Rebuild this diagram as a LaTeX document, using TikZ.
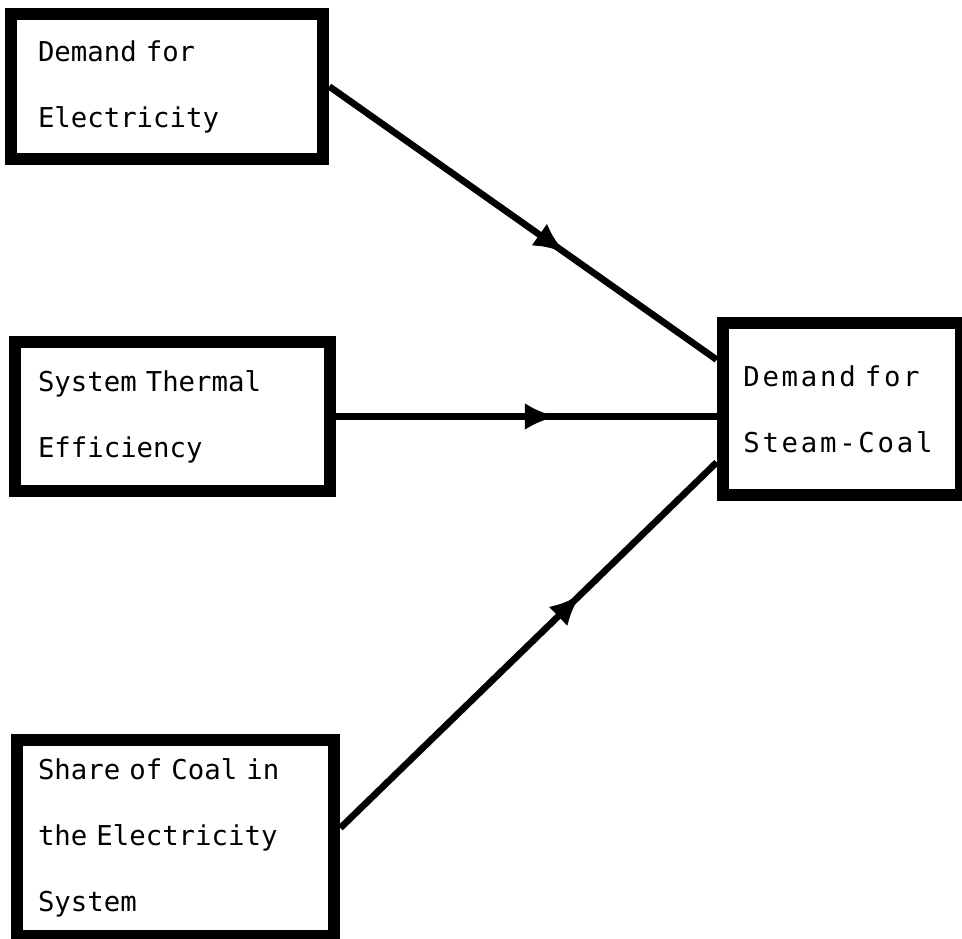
\documentclass[tikz,border=0pt]{standalone}
\usepackage{fontspec}
\newfontfamily\boxfont{DejaVu Sans Mono}
\newfontfamily\widefont[LetterSpace=10]{DejaVu Sans Mono}
\usetikzlibrary{arrows.meta,decorations.markings}

\begin{document}
\begin{tikzpicture}[x=0.75pt, y=-0.75pt,
    block/.style ={rectangle, draw=black, line width=9.5pt, fill=white,
      align=left, inner sep=0pt,
      font=\boxfont\fontsize{20.5pt}{49.5pt}\selectfont},
    block_wide/.style ={block,
      font=\widefont\fontsize{20.5pt}{49.5pt}\selectfont},
    flowline/.style ={draw, line width=5pt,
      decoration={markings,
        mark=at position #1 with {\arrow{Latex[length=24pt,width=20pt]}}},
      postaction={decorate}},
    flowline/.default=0.6]
    \useasboundingbox (0,0) rectangle (962,938);
    % the three inputs on the left
    \node [block, minimum width=234pt, minimum height=108.75pt, text width=193.5pt]
      (elec) at (167,86.5) {Demand for\\Electricity};
    \node [block, minimum width=236.25pt, minimum height=111.75pt, text width=201.75pt]
      (thermal) at (172.5,416.5) {System Thermal\\Efficiency};
    \node [block, minimum width=237.75pt, minimum height=147pt, text width=206.25pt]
      (share) at (175.5,838) {Share of Coal in\\the Electricity\\System};
    % the result on the right
    \node [block_wide, minimum width=178.5pt, minimum height=129pt, text width=148pt]
      (coal) at (842,409) {Demand for\\Steam-Coal};
    % connecting nodes with paths
    \path [flowline=0.61] (elec.east) -- ([yshift=37pt]coal.west);
    \path [flowline=0.58] (thermal.east) -- (thermal.east -| coal.west);
    \path [flowline=0.64] ([yshift=7.5pt]share.east) -- ([yshift=-40pt]coal.west);
  \end{tikzpicture}
\end{document}
